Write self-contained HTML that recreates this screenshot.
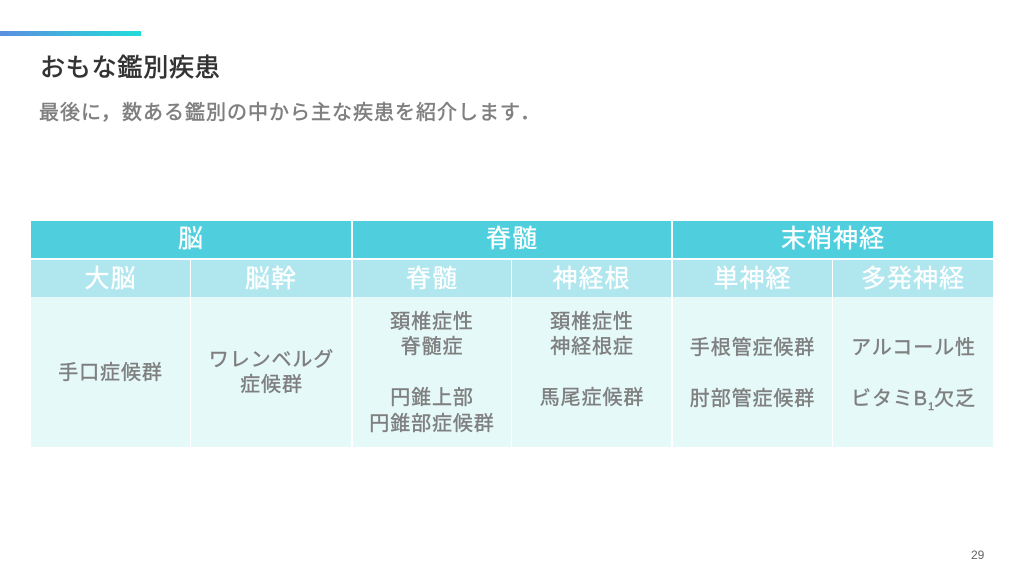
<!DOCTYPE html>
<html lang="ja">
<head>
<meta charset="utf-8">
<style>
html,body{margin:0;padding:0;background:#fff}
#p{position:relative;width:1024px;height:576px;overflow:hidden;background:#fff;font-family:"Liberation Sans","Noto Sans CJK JP",sans-serif}
#p div{position:absolute;box-sizing:border-box}
.c{text-align:center;white-space:nowrap}
.h{background:#4fcfdd;color:#fff;font-size:25px;letter-spacing:1px;height:37px;line-height:36px;top:221px;-webkit-text-stroke:.35px #fff}
.s{background:#b0e6ee;color:#fff;font-size:25px;letter-spacing:1px;height:37px;line-height:38px;top:260px;-webkit-text-stroke:.35px #fff}
.b{background:#e5f9f9;top:297px;height:150px}
.t{color:#7f7f7f;font-size:20px;letter-spacing:.9px;line-height:25.4px;-webkit-text-stroke:.4px #7f7f7f}
sub{font-size:11px;line-height:0;letter-spacing:0}
</style>
</head>
<body>
<div id="p">
<div style="left:0;top:31px;width:141px;height:5px;background:linear-gradient(90deg,#5b8fe0,#22dcd8)"></div>
<div style="left:40px;top:51px;font-size:25px;letter-spacing:.8px;line-height:34px;color:#333;-webkit-text-stroke:.6px #333;white-space:nowrap">おもな鑑別疾患</div>
<div style="left:39px;top:98px;font-size:20px;letter-spacing:1px;line-height:30px;color:#7f7f7f;-webkit-text-stroke:.5px #7f7f7f;white-space:nowrap">最後に，数ある鑑別の中から主な疾患を紹介します．</div>

<div class="c h" style="left:31px;width:320px">脳</div>
<div class="c h" style="left:353px;width:318px">脊髄</div>
<div class="c h" style="left:673px;width:320px">末梢神経</div>

<div class="c s" style="left:31px;width:159px">大脳</div>
<div class="c s" style="left:191px;width:160px">脳幹</div>
<div class="c s" style="left:353px;width:158px">脊髄</div>
<div class="c s" style="left:512px;width:159px">神経根</div>
<div class="c s" style="left:673px;width:159px">単神経</div>
<div class="c s" style="left:833px;width:160px">多発神経</div>

<div class="b" style="left:31px;width:159px"></div>
<div class="b" style="left:191px;width:160px"></div>
<div class="b" style="left:353px;width:158px"></div>
<div class="b" style="left:512px;width:159px"></div>
<div class="b" style="left:673px;width:159px"></div>
<div class="b" style="left:833px;width:160px"></div>

<div class="c t" style="left:31px;width:159px;top:361px">手口症候群</div>
<div class="c t" style="left:192px;width:159px;top:348px">ワレンベルグ<br>症候群</div>
<div class="c t" style="left:353px;width:158px;top:310px">頚椎症性<br>脊髄症<br><br>円錐上部<br>円錐部症候群</div>
<div class="c t" style="left:513px;width:158px;top:310px">頚椎症性<br>神経根症<br><br>馬尾症候群</div>
<div class="c t" style="left:673px;width:159px;top:336px">手根管症候群<br><br>肘部管症候群</div>
<div class="c t" style="left:834px;width:159px;top:336px">アルコール性<br><br>ビタミB<sub>1</sub>欠乏</div>

<div style="left:971px;top:547px;font-size:12px;line-height:16px;color:#666">29</div>
</div>
</body>
</html>
